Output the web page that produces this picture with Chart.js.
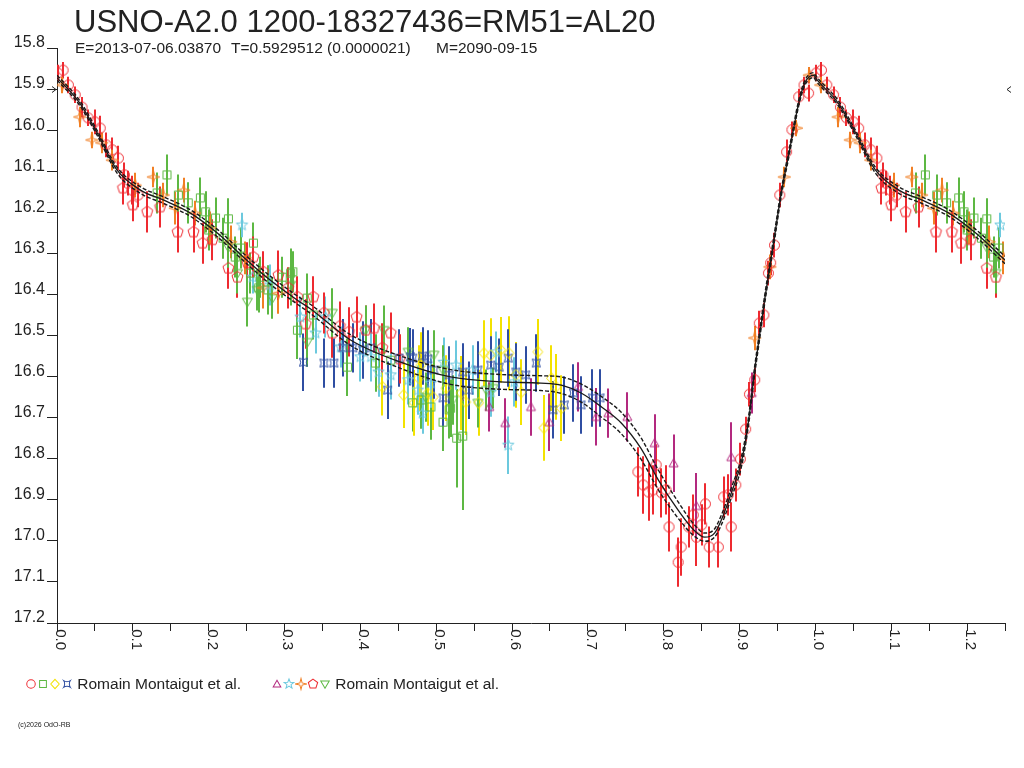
<!DOCTYPE html>
<html><head><meta charset="utf-8"><title>USNO-A2.0 1200-18327436=RM51=AL20</title>
<script src="https://cdn.jsdelivr.net/npm/chart.js@4.4.1/dist/chart.umd.min.js"></script>
<style>
html,body{margin:0;padding:0;background:#fff;}
body{width:1024px;height:768px;position:relative;overflow:hidden;font-family:"Liberation Sans",Arial,sans-serif;color:#222;}
#c{position:absolute;left:0;top:0;}
.t{position:absolute;white-space:pre;line-height:1;}
#title{left:74px;top:5px;font-size:32px;transform:scaleX(0.97);transform-origin:0 0;}
.sub{top:40px;font-size:15.5px;}
.lg{position:absolute;top:675px;height:18px;display:flex;align-items:center;font-size:15.5px;white-space:pre;}
.lg canvas{display:block;}
#copy{left:18px;top:721px;font-size:7px;}
</style></head>
<body>
<canvas id="c" width="1024" height="768"></canvas>
<div class="t" id="title">USNO-A2.0 1200-18327436=RM51=AL20</div>
<div class="t sub" style="left:75px">E=2013-07-06.03870</div>
<div class="t sub" style="left:231px">T=0.5929512 (0.0000021)</div>
<div class="t sub" style="left:436px">M=2090-09-15</div>
<div class="lg" id="lg1" style="left:25px"></div>
<div class="lg" id="lg2" style="left:271px"></div>
<div class="t" id="copy">(c)2026 OdO-RB</div>
<script>
// ---------------- data: [phase, magnitude, error] ----------------
const redCircles = [
 [0.001,15.861,0.02],[0.008,15.854,0.02],[0.015,15.890,0.02],[0.024,15.914,0.02],[0.033,15.944,0.025],
 [0.041,15.970,0.02],[0.050,15.980,0.03],[0.057,15.995,0.03],[0.065,16.036,0.03],[0.073,16.048,0.03],
 [0.081,16.068,0.03],[0.089,16.109,0.03],[0.093,16.129,0.03],[0.099,16.146,0.035],[0.107,16.158,0.03],
 [0.766,16.832,0.06],[0.773,16.864,0.07],[0.780,16.881,0.07],[0.786,16.876,0.06],[0.790,16.815,0.05],
 [0.797,16.883,0.06],[0.803,16.876,0.06],[0.807,16.966,0.06],[0.819,17.052,0.06],[0.823,17.015,0.07],
 [0.833,16.966,0.05],[0.839,16.937,0.05],[0.843,16.991,0.07],[0.850,16.961,0.05],[0.855,16.910,0.05],
 [0.860,17.015,0.05],[0.872,17.015,0.05],[0.879,16.893,0.05],[0.885,16.888,0.05],[0.889,16.966,0.06],
 [0.895,16.864,0.04],[0.901,16.801,0.04],[0.908,16.728,0.03],[0.913,16.643,0.03],[0.920,16.608,0.03],
 [0.926,16.470,0.03],[0.932,16.450,0.03],[0.938,16.348,0.03],[0.941,16.323,0.03],[0.946,16.280,0.03],
 [0.953,16.158,0.03],[0.962,16.053,0.03],[0.969,15.999,0.02],[0.978,15.919,0.02],[0.985,15.890,0.02],
 [0.991,15.910,0.02]
];
const greenSquares = [
 [0.132,16.153,0.05],[0.145,16.109,0.05],[0.160,16.158,0.05],[0.173,16.177,0.05],[0.189,16.165,0.05],
 [0.196,16.199,0.05],[0.200,16.243,0.05],[0.209,16.214,0.05],[0.219,16.263,0.05],[0.226,16.216,0.05],
 [0.235,16.309,0.05],[0.242,16.287,0.05],[0.255,16.348,0.05],[0.259,16.275,0.05],[0.266,16.384,0.06],
 [0.268,16.358,0.05],[0.278,16.389,0.06],[0.297,16.358,0.05],[0.308,16.348,0.06],[0.311,16.345,0.05],
 [0.317,16.487,0.07],[0.330,16.409,0.06],[0.338,16.450,0.06],[0.383,16.577,0.07],[0.420,16.567,0.07],
 [0.440,16.560,0.07],[0.469,16.664,0.07],[0.480,16.657,0.07],[0.493,16.674,0.08],[0.509,16.711,0.07],
 [0.517,16.681,0.07],[0.519,16.677,0.07],[0.527,16.750,0.12],[0.535,16.745,0.18]
];
const yellowDiamonds = [
 [0.429,16.625,0.07],[0.457,16.645,0.08],[0.471,16.664,0.08],[0.477,16.604,0.08],[0.480,16.572,0.08],
 [0.489,16.640,0.08],[0.496,16.650,0.08],[0.513,16.628,0.08],[0.533,16.640,0.09],[0.539,16.662,0.08],
 [0.556,16.664,0.08],[0.563,16.543,0.08],[0.572,16.548,0.09],[0.585,16.535,0.08],[0.596,16.543,0.09],
 [0.605,16.596,0.08],[0.612,16.638,0.08],[0.634,16.540,0.08],[0.642,16.725,0.08],[0.652,16.604,0.08],
 [0.658,16.625,0.08],[0.665,16.677,0.08]
];
const blueMarks = [
 [0.325,16.565,0.07],[0.352,16.567,0.06],[0.365,16.567,0.06],[0.377,16.530,0.07],[0.390,16.530,0.06],
 [0.403,16.535,0.07],[0.414,16.530,0.07],[0.436,16.633,0.07],[0.451,16.555,0.07],[0.466,16.552,0.07],
 [0.469,16.555,0.07],[0.482,16.550,0.07],[0.489,16.557,0.07],[0.497,16.584,0.07],[0.509,16.652,0.07],
 [0.517,16.596,0.07],[0.535,16.589,0.07],[0.543,16.633,0.07],[0.555,16.584,0.07],[0.572,16.572,0.07],
 [0.583,16.577,0.07],[0.595,16.555,0.07],[0.605,16.589,0.07],[0.618,16.596,0.07],[0.632,16.567,0.07],
 [0.654,16.681,0.07],[0.669,16.669,0.07],[0.681,16.640,0.07],[0.691,16.669,0.07],[0.706,16.652,0.07],
 [0.716,16.652,0.07]
];
const magentaTriangles = [
 [0.570,16.674,0.06],[0.591,16.713,0.06],[0.625,16.674,0.07],[0.649,16.711,0.07],[0.687,16.625,0.06],
 [0.711,16.698,0.07],[0.727,16.689,0.06],[0.752,16.698,0.06],[0.788,16.762,0.07],[0.813,16.811,0.07],
 [0.843,16.915,0.08],[0.889,16.796,0.085],[0.916,16.640,0.05]
];
const cyanStars = [
 [0.244,16.231,0.03],[0.258,16.358,0.04],[0.281,16.377,0.05],[0.321,16.455,0.05],[0.341,16.494,0.05],
 [0.354,16.455,0.05],[0.374,16.528,0.05],[0.400,16.552,0.06],[0.414,16.552,0.06],[0.424,16.589,0.06],
 [0.440,16.596,0.06],[0.463,16.608,0.06],[0.476,16.633,0.06],[0.482,16.689,0.05],[0.493,16.616,0.06],
 [0.510,16.565,0.06],[0.526,16.572,0.06],[0.548,16.584,0.06],[0.572,16.638,0.06],[0.579,16.540,0.05],
 [0.595,16.767,0.07],[0.603,16.613,0.06]
];
const orangeStars = [
 [0.007,15.890,0.02],[0.030,15.968,0.025],[0.046,16.024,0.02],[0.059,16.031,0.025],[0.073,16.073,0.025],
 [0.103,16.134,0.03],[0.127,16.114,0.025],[0.140,16.158,0.03],[0.156,16.190,0.04],[0.167,16.146,0.03],
 [0.182,16.202,0.03],[0.202,16.238,0.04],[0.229,16.272,0.04],[0.248,16.311,0.04],[0.272,16.384,0.05],
 [0.292,16.397,0.05],[0.920,16.506,0.03],[0.940,16.333,0.03],[0.959,16.114,0.025],[0.975,15.995,0.02],
 [0.992,15.866,0.02]
];
const redPentagons = [
 [0.087,16.141,0.04],[0.100,16.182,0.04],[0.119,16.199,0.05],[0.136,16.187,0.05],[0.159,16.248,0.05],
 [0.180,16.248,0.05],[0.192,16.275,0.05],[0.205,16.267,0.05],[0.226,16.336,0.05],[0.238,16.358,0.05],
 [0.251,16.323,0.05],[0.259,16.309,0.05],[0.272,16.345,0.05],[0.292,16.353,0.06],[0.305,16.384,0.05],
 [0.317,16.406,0.05],[0.328,16.472,0.06],[0.338,16.406,0.05],[0.352,16.445,0.05],[0.363,16.494,0.06],
 [0.373,16.477,0.06],[0.385,16.491,0.06],[0.395,16.455,0.05],[0.407,16.487,0.06],[0.418,16.482,0.06],
 [0.429,16.530,0.06],[0.440,16.494,0.05],[0.452,16.557,0.06]
];
const greenTrianglesDown = [
 [0.226,16.285,0.05],[0.238,16.348,0.05],[0.251,16.418,0.06],[0.264,16.389,0.05],[0.284,16.409,0.05],
 [0.308,16.377,0.05],[0.330,16.516,0.06],[0.363,16.445,0.06],[0.407,16.487,0.06],[0.431,16.487,0.06],
 [0.463,16.540,0.06],[0.486,16.650,0.06],[0.497,16.547,0.06],[0.509,16.584,0.06],[0.522,16.657,0.06],
 [0.555,16.664,0.06],[0.566,16.633,0.05],[0.575,16.628,0.05]
];
// model light curve (phase, magnitude) and half-width of its uncertainty band
const modelPhase = [0,0.03,0.053,0.079,0.11,0.14,0.176,0.211,0.25,0.281,0.317,0.334,0.387,0.453,0.519,0.585,0.638,0.665,0.691,0.718,
 0.744,0.77,0.793,0.819,0.84,0.854,0.867,0.876,0.889,0.903,0.912,0.92,0.925,0.933,0.946,0.955,0.966,0.978,0.986,0.998];
const modelMag = [15.872,15.934,16.007,16.097,16.146,16.170,16.202,16.250,16.316,16.365,16.414,16.435,16.511,16.565,16.601,16.613,16.616,16.621,16.640,16.674,
 16.713,16.775,16.852,16.925,16.974,16.991,16.981,16.949,16.884,16.803,16.706,16.584,16.518,16.414,16.260,16.153,16.048,15.934,15.885,15.866];
const modelBand = [0.006,0.006,0.006,0.007,0.008,0.008,0.008,0.009,0.009,0.010,0.010,0.011,0.013,0.015,0.018,0.018,0.018,0.020,0.022,0.025,
 0.026,0.026,0.024,0.020,0.014,0.010,0.010,0.012,0.012,0.012,0.010,0.010,0.010,0.010,0.010,0.008,0.008,0.007,0.006,0.006];
const maxMagMark = 15.9;
const yTicks = {min:15.8, max:17.2, step:0.1};
const xTicks = {min:0, max:1.25, step:0.05};
const legendLabels = ['Romain Montaigut et al.','Romain Montaigut et al.'];

// ---------------- markers ----------------
const COL = {red:'#ee2a30',green:'#5db843',yellow:'#f3e200',blue:'#2f4ea2',magenta:'#b3297f',cyan:'#6cc9de',orange:'#f17f24'};
function mk(color, draw, w, h, sc){
  w=w||15; h=h||15; sc=sc||1;
  const c=document.createElement('canvas'); c.width=w; c.height=h;
  const g=c.getContext('2d'); g.strokeStyle=color; g.lineWidth=1/sc; g.translate(w/2,h/2); g.scale(sc,sc);
  g.beginPath(); draw(g); g.closePath(); g.stroke(); return c;
}
function poly(g,n,r,ri){ // regular polygon / star
  const k = ri ? 2*n : n;
  for(let i=0;i<k;i++){ const a=-Math.PI/2+i*Math.PI*2/k; const rr=(ri && i%2)?ri:r;
    const px=rr*Math.cos(a), py=rr*Math.sin(a); i?g.lineTo(px,py):g.moveTo(px,py); }
}
const SHAPES = {
  circle: g=>g.arc(0,0,5,0,Math.PI*2),
  square: g=>g.rect(-4,-4,8,8),
  diamond: g=>{g.moveTo(0,-5.5);g.lineTo(5,0);g.lineTo(0,5.5);g.lineTo(-5,0);},
  cushion: g=>{g.moveTo(-4,-4);g.quadraticCurveTo(0,-1.5,4,-4);g.quadraticCurveTo(1.5,0,4,4);g.quadraticCurveTo(0,1.5,-4,4);g.quadraticCurveTo(-1.5,0,-4,-4);},
  triUp: g=>{g.moveTo(0,-4.5);g.lineTo(4.5,3.5);g.lineTo(-4.5,3.5);},
  star5: g=>poly(g,5,6,2.5),
  star4: g=>{const a=1.3;g.moveTo(0,-6.5);g.lineTo(a,-a);g.lineTo(6.5,0);g.lineTo(a,a);g.lineTo(0,6.5);g.lineTo(-a,a);g.lineTo(-6.5,0);g.lineTo(-a,-a);},
  pentagon: g=>poly(g,5,5.8),
  triDown: g=>{g.moveTo(-5,-3.5);g.lineTo(5,-3.5);g.lineTo(0,5);}
};

const series = [
  {data:redCircles, color:COL.red, shape:'circle', group:0},
  {data:greenSquares, color:COL.green, shape:'square', group:0},
  {data:yellowDiamonds, color:COL.yellow, shape:'diamond', group:0},
  {data:blueMarks, color:COL.blue, shape:'cushion', group:0},
  {data:magentaTriangles, color:COL.magenta, shape:'triUp', group:1},
  {data:cyanStars, color:COL.cyan, shape:'star5', group:1},
  {data:orangeStars, color:COL.orange, shape:'star4', group:1},
  {data:redPentagons, color:COL.red, shape:'pentagon', group:1},
  {data:greenTrianglesDown, color:COL.green, shape:'triDown', group:1}
];

// phase-folded points are repeated one cycle later, up to the axis end
function fold(arr){
  const out=[];
  arr.forEach(([p,m,e])=>{ out.push({x:p,y:m,e:e}); if(p+1<=xTicks.max) out.push({x:p+1,y:m,e:e}); });
  return out;
}
function modelLine(off){
  const out=[];
  modelPhase.forEach((p,i)=>{ out.push({x:p,y:modelMag[i]+off*modelBand[i]}); });
  modelPhase.forEach((p,i)=>{ if(p+1<=xTicks.max+0.05){ out.push({x:p+1,y:modelMag[i]+off*modelBand[i]}); } });
  return out;
}

// ---------------- legend ----------------
series.forEach(s=>{
  const c=mk(s.color,SHAPES[s.shape],12,16,0.85);
  document.getElementById(s.group? 'lg2':'lg1').appendChild(c);
});
['lg1','lg2'].forEach((id,i)=>{ const sp=document.createElement('span'); sp.textContent=' '+legendLabels[i]; document.getElementById(id).appendChild(sp); });

// ---------------- plugins ----------------
const errorBars = {
  id:'errorBars',
  beforeDatasetsDraw(chart){
    const {ctx, chartArea:a, scales:{x,y}} = chart;
    ctx.save(); ctx.beginPath(); ctx.rect(a.left,a.top,a.right-a.left,a.bottom-a.top); ctx.clip();
    ctx.lineWidth=2;
    chart.data.datasets.forEach(ds=>{
      if(!ds.isObs) return;
      ctx.strokeStyle=ds.borderColor;
      ds.data.forEach(p=>{
        const px=Math.round(x.getPixelForValue(p.x));
        ctx.beginPath(); ctx.moveTo(px,y.getPixelForValue(p.y-p.e)); ctx.lineTo(px,y.getPixelForValue(p.y+p.e)); ctx.stroke();
      });
    });
    ctx.restore();
  }
};
const maxMarks = {
  id:'maxMarks',
  afterDraw(chart){
    const {ctx, chartArea:a, scales:{y}} = chart;
    const py=Math.round(y.getPixelForValue(maxMagMark))+0.5;
    ctx.save(); ctx.strokeStyle='#222'; ctx.lineWidth=1;
    ctx.beginPath(); ctx.moveTo(a.left-9,py); ctx.lineTo(a.left-1,py);
    ctx.moveTo(a.left-5,py-3); ctx.lineTo(a.left-1,py); ctx.lineTo(a.left-5,py+3);
    ctx.moveTo(a.right+6,py-3); ctx.lineTo(a.right+2,py); ctx.lineTo(a.right+6,py+3);
    ctx.stroke(); ctx.restore();
  }
};

// ---------------- chart ----------------
const FONT = '"Liberation Sans",Arial,sans-serif';
const datasets = [
  {data:modelLine(0), showLine:true, borderColor:'#1a1a1a', borderWidth:1.3, pointRadius:0, cubicInterpolationMode:'monotone', clip:0},
  {data:modelLine(-1), showLine:true, borderColor:'#1a1a1a', borderWidth:1.4, borderDash:[4,2], pointRadius:0, cubicInterpolationMode:'monotone', clip:0},
  {data:modelLine(1), showLine:true, borderColor:'#1a1a1a', borderWidth:1.4, borderDash:[4,2], pointRadius:0, cubicInterpolationMode:'monotone', clip:0}
];
series.forEach(s=>{
  datasets.push({data:fold(s.data), isObs:true, showLine:false, borderColor:s.color,
    pointStyle:mk(s.color,SHAPES[s.shape]), pointRadius:6, pointHoverRadius:6});
});

new Chart(document.getElementById('c'), {
  type:'scatter',
  data:{datasets},
  options:{
    responsive:false, animation:false, devicePixelRatio:1,
    layout:{padding:{left:0,right:19,top:48,bottom:105}},
    plugins:{legend:{display:false}, tooltip:{enabled:false}, title:{display:false}},
    scales:{
      x:{type:'linear', min:xTicks.min, max:xTicks.max,
        afterFit(s){ s.height=40; },
        ticks:{stepSize:xTicks.step, autoSkip:false, minRotation:-90, maxRotation:-90, padding:19, labelOffset:3, color:'#222',
          font:{family:FONT,size:15},
          callback:v=>{ const k=Math.round(v*100); return k%10===0 ? (k/100).toFixed(1) : ''; }},
        grid:{drawOnChartArea:false, drawTicks:true, tickLength:8, color:'#222'},
        border:{display:true, color:'#222', width:1}},
      y:{type:'linear', reverse:true, min:yTicks.min, max:yTicks.max,
        afterFit(s){ s.width=57; },
        ticks:{stepSize:yTicks.step, autoSkip:false, padding:2, labelOffset:-5, color:'#222',
          font:{family:FONT,size:16}, callback:v=>v.toFixed(1)},
        grid:{drawOnChartArea:false, drawTicks:true, tickLength:10, color:'#222'},
        border:{display:true, color:'#222', width:1}}
    }
  },
  plugins:[errorBars, maxMarks]
});
</script>
</body></html>
